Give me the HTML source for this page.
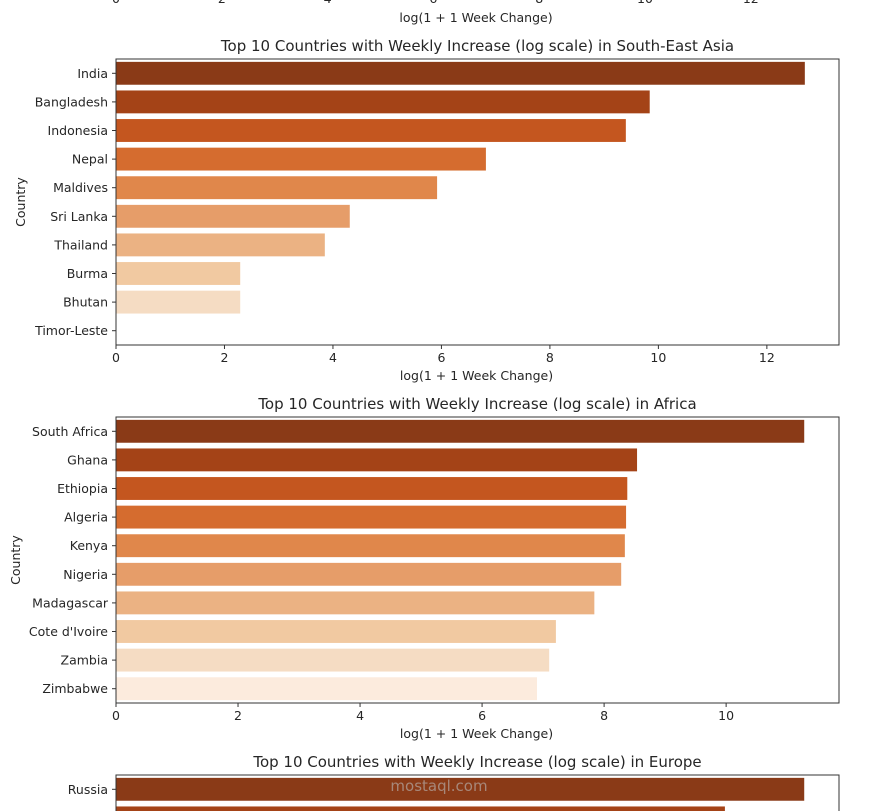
<!DOCTYPE html>
<html><head><meta charset="utf-8"><style>
html,body{margin:0;padding:0;background:#fff;width:879px;height:811px;overflow:hidden}
svg{display:block}
svg text{font-family:"DejaVu Sans","Liberation Sans",sans-serif;fill:#262626}
</style></head><body>
<svg id="chart" width="879" height="811" viewBox="0 0 879 811" xmlns="http://www.w3.org/2000/svg" overflow="hidden"></svg>
<script>
const colors = ["#8a3a17","#a44317","#c4561f","#d56c2f","#e0874b","#e69d69","#ebb283","#f1c9a1","#f5dcc3","#fcebdd"];
const seaCountries = ["India","Bangladesh","Indonesia","Nepal","Maldives","Sri Lanka","Thailand","Burma","Bhutan","Timor-Leste"];
const seaValues = [12.7,9.84,9.40,6.82,5.92,4.31,3.85,2.29,2.29,0];
const seaTicks = [0,2,4,6,8,10,12];
const afrCountries = ["South Africa","Ghana","Ethiopia","Algeria","Kenya","Nigeria","Madagascar","Cote d'Ivoire","Zambia","Zimbabwe"];
const afrValues = [11.28,8.54,8.38,8.36,8.34,8.28,7.84,7.21,7.10,6.90];
const afrTicks = [0,2,4,6,8,10];
const eurCountries = ["Russia","Second"];
const eurValues = [11.28,9.98];
const topTicks = [0,2,4,6,8,10,12];

const svg = document.getElementById('chart');
const NS = "http://www.w3.org/2000/svg";
function mk(tag, attrs, parent){
  const e = document.createElementNS(NS, tag);
  for (const k in attrs) e.setAttribute(k, attrs[k]);
  (parent||svg).appendChild(e);
  return e;
}
const L = 116, R = 839;

function chart(top, title, countries, values, ticks, xmax, name, rowsShown, showX, showYTitle){
  const g = mk('g', {});
  
  
  const H = 286, rowH = H / 10;
  const x = v => L + v / xmax * (R - L);
  const y = i => top + (i + 0.5) * rowH;
  const t = mk('text', {x: (L+R)/2, y: top - 8, 'text-anchor':'middle', 'font-size':'15'}, g);
  t.textContent = title;
  
  
  for (let i = 0; i < rowsShown; i++) {
    const bw = Math.max(0, x(values[i]) - L);
    const b = mk('rect', {x: L, y: y(i) - rowH*0.4, width: bw, height: rowH*0.8, fill: colors[i]}, g);
    
    
    if (y(i) < 805) {
      mk('line', {x1: L-4, x2: L, y1: y(i), y2: y(i), stroke:'#333', 'stroke-width':1}, g);
      const lb = mk('text', {x: L-8, y: y(i)+4.5, 'text-anchor':'end', 'font-size':'12.5'}, g);
      lb.textContent = countries[i];
      
      
    }
  }
  const frame = mk('rect', {x: L, y: top, width: R-L, height: Math.min(H, 811-top+2), fill:'none', stroke:'#333', 'stroke-width':1}, g);
  
  
  if (showX) {
    ticks.forEach(v => {
      mk('line', {x1: x(v), x2: x(v), y1: top+H, y2: top+H+4, stroke:'#333'}, g);
      const tl = mk('text', {x: x(v), y: top+H+17, 'text-anchor':'middle', 'font-size':'12.5'}, g);
      tl.textContent = v;
      
      
    });
    const xt = mk('text', {x: (L+R)/2 - 1, y: top+H+35, 'text-anchor':'middle', 'font-size':'12.5'}, g);
    xt.textContent = 'log(1 + 1 Week Change)';
    
    
  }
  if (showYTitle) {
    const yx = showYTitle;
    const yt = mk('text', {x: yx, y: top+H/2, 'text-anchor':'middle', 'font-size':'12.5', transform:`rotate(-90 ${yx} ${top+H/2})`}, g);
    yt.textContent = 'Country';
    
    
  }
}

(function(){
  const g = mk('g', {});
  
  
  const x = v => 116 + v * 52.9;
  topTicks.forEach(v => {
    const tl = mk('text', {x: x(v), y: 3, 'text-anchor':'middle', 'font-size':'12.5'}, g);
    tl.textContent = v;
    
    
  });
  const xt = mk('text', {x: 476, y: 22, 'text-anchor':'middle', 'font-size':'12.5'}, g);
  xt.textContent = 'log(1 + 1 Week Change)';
  
  
})();

chart(59, 'Top 10 Countries with Weekly Increase (log scale) in South-East Asia', seaCountries, seaValues, seaTicks, 13.33, 'south-east-asia', 10, true, 25);
chart(417, 'Top 10 Countries with Weekly Increase (log scale) in Africa', afrCountries, afrValues, afrTicks, 11.85, 'africa', 10, true, 20);
chart(775, 'Top 10 Countries with Weekly Increase (log scale) in Europe', eurCountries, eurValues, [], 11.85, 'europe', 2, false, 0);
const wm = mk('text', {x: 439, y: 791, 'text-anchor':'middle', 'font-size':'15', style:'fill:#bbb;opacity:0.6'});
wm.textContent = 'mostaql.com';


</script>
</body></html>
